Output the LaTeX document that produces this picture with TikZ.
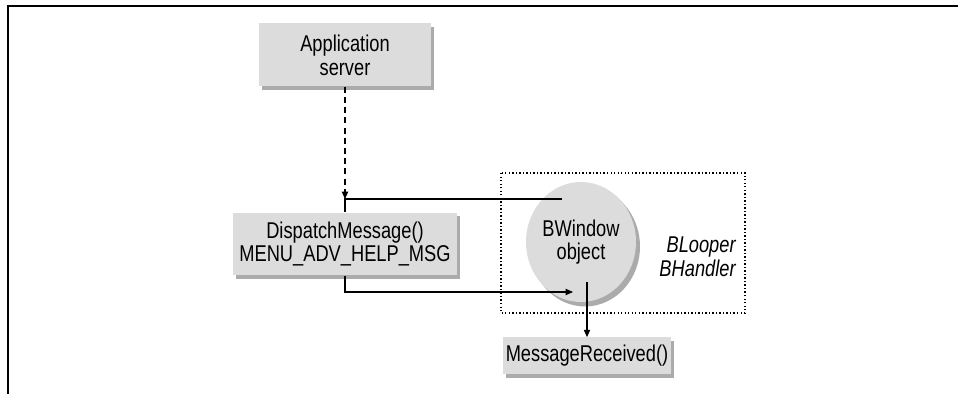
\documentclass[tikz,border=0pt]{standalone}
\usepackage{fontspec}
\setmainfont{Liberation Sans}[FakeStretch=0.8]
\usetikzlibrary{shapes.geometric,shadows,arrows.meta}

\definecolor{boxgray}{HTML}{DCDCDC}
\definecolor{shadegray}{HTML}{ABABAB}

\tikzset{
  msgbox/.style={fill=boxgray, inner sep=0pt, align=center,
    general shadow={fill=shadegray, shadow xshift=0.06cm, shadow yshift=-0.07cm},
    font=\fontsize{13}{13.5}\selectfont},
  objnode/.style={ellipse, fill=boxgray, inner sep=0pt, align=center,
    general shadow={fill=shadegray, shadow xshift=0.08cm, shadow yshift=-0.09cm},
    minimum width=2.2cm, minimum height=2.4cm,
    font=\fontsize{13}{13.5}\selectfont},
  wire/.style={line width=0.6pt},
  flow/.style={wire, -{Triangle[length=4.2pt,width=3.6pt]}},
  dashflow/.style={flow, dash pattern=on 3.4pt off 2.4pt}
}

\begin{document}
\begin{tikzpicture}[x=0.02cm,y=-0.02cm]
\useasboundingbox (0,0) rectangle (958,394);
\draw[line width=0.9pt] (958,6) -- (8,6) -- (8,394);

% scope of the looper
\draw[line width=0.6pt, dash pattern=on 0.8pt off 1.2pt] (501,173) rectangle (745,313);

\node[msgbox, minimum width=3.46cm, minimum height=1.26cm] (app) at (345,55) {Application\\server};
\node[msgbox, minimum width=4.5cm, minimum height=1.26cm] (disp) at (345,244) {DispatchMessage()\\MENU\_ADV\_HELP\_MSG};
\node[msgbox, minimum width=3.36cm, minimum height=0.74cm] (msg) at (587,356) {MessageReceived()};
\node[objnode] (win) at (581,242) {BWindow\\object};
\node[anchor=east, align=right, inner sep=0pt, font=\fontsize{13}{13.5}\selectfont\itshape] (looper) at (736,257) {BLooper\\BHandler};

\coordinate (join) at (345,199);
\coordinate (wtop) at (562,199);
\coordinate (wbot) at (573,292);
\coordinate (wout) at (587,282);

\draw[dashflow] (app.south) -- (join);
\draw[wire] (wtop) -- (join) -- (disp.north);
\draw[flow] (disp.south) |- (wbot);
\draw[flow] (wout) -- (msg.north);
\end{tikzpicture}
\end{document}
